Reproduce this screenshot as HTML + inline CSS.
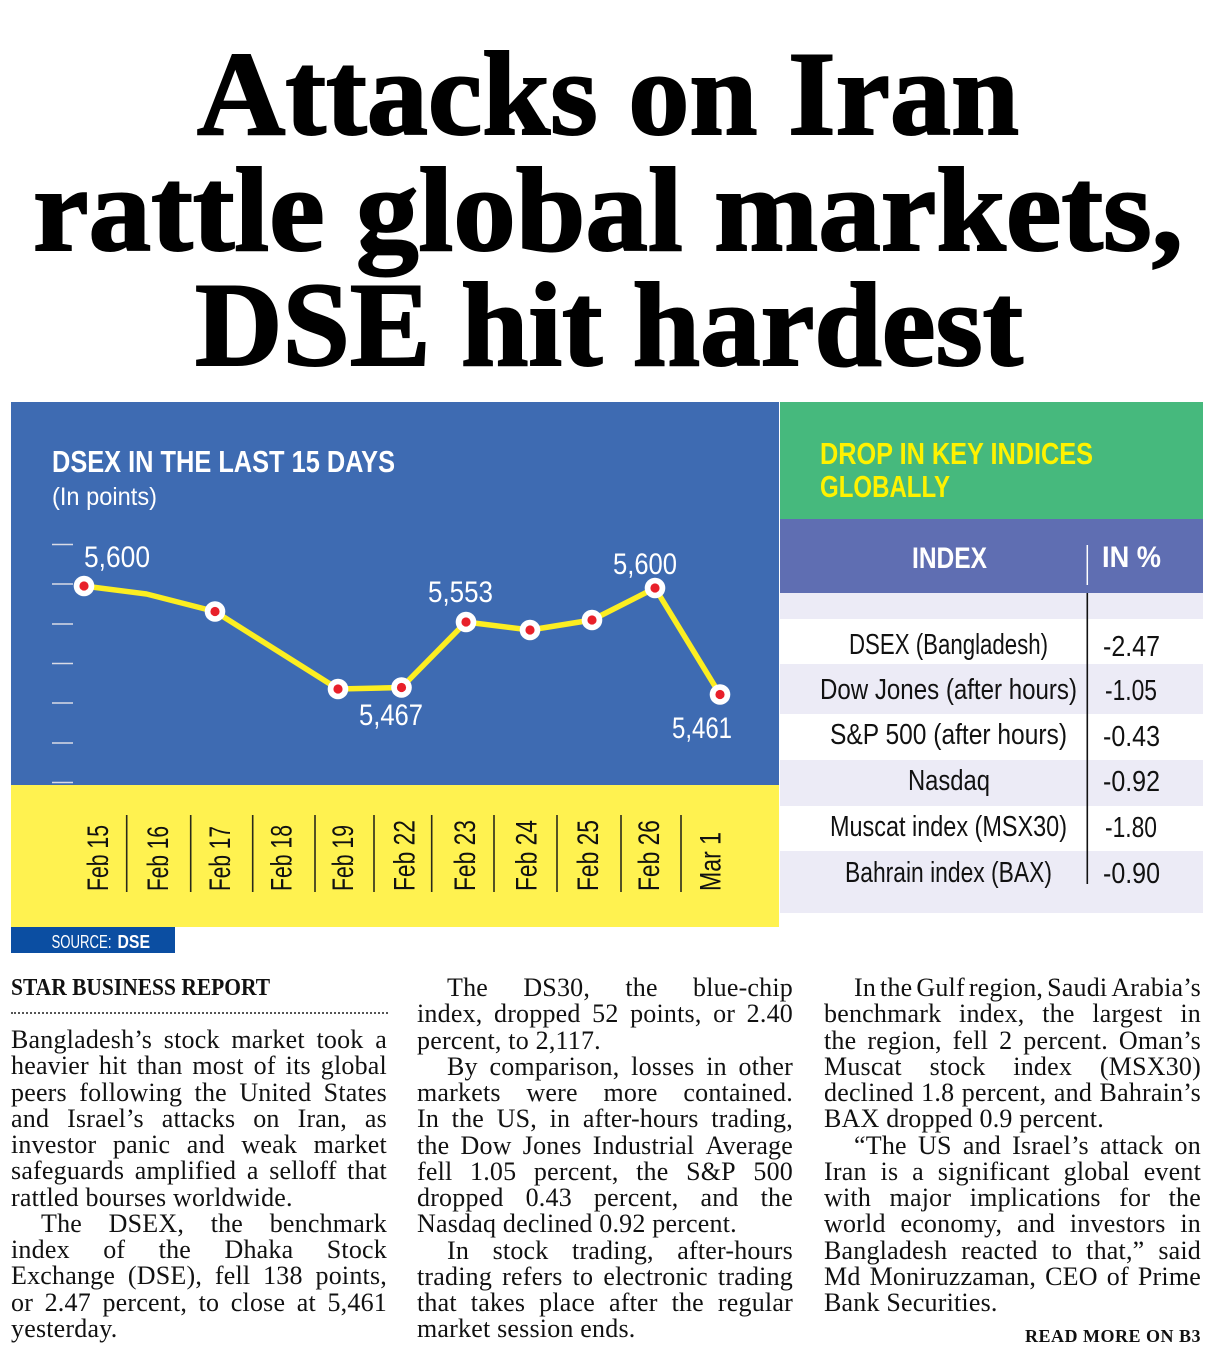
<!DOCTYPE html>
<html>
<head>
<meta charset="utf-8">
<style>
html,body{margin:0;padding:0;background:#fff;}
body{width:1213px;height:1360px;position:relative;overflow:hidden;}
svg{position:absolute;left:0;top:0;}
.col{position:absolute;width:376px;font-family:"Liberation Serif",serif;font-size:26px;line-height:26.25px;letter-spacing:0.2px;color:#111;}
.col div{height:26.25px;white-space:nowrap;}
.col .j{display:flex;justify-content:space-between;}
.col .in{padding-left:30px;}
.byline{position:absolute;left:11px;top:976px;font-family:"Liberation Serif",serif;font-weight:bold;font-size:24px;line-height:24px;color:#111;white-space:nowrap;transform:scaleX(0.895);transform-origin:0 0;}
.dots{position:absolute;left:11px;top:1012px;width:377px;border-top:2px dotted #555;}
.more{position:absolute;right:12px;top:1327px;font-family:"Liberation Serif",serif;font-weight:bold;font-size:18px;line-height:18px;letter-spacing:0.5px;color:#111;white-space:nowrap;}
</style>
</head>
<body>
<svg width="1213" height="1360" viewBox="0 0 1213 1360" xmlns="http://www.w3.org/2000/svg">
  <!-- Headline -->
  <g font-family="Liberation Serif, serif" font-weight="bold" font-size="120" fill="#000" stroke="#000" stroke-width="2">
    <text x="197" y="134" textLength="822" lengthAdjust="spacingAndGlyphs">Attacks on Iran</text>
    <text x="33" y="250" textLength="1150" lengthAdjust="spacingAndGlyphs">rattle global markets,</text>
    <text x="195" y="365" textLength="828" lengthAdjust="spacingAndGlyphs">DSE hit hardest</text>
  </g>

  <!-- Chart panel -->
  <rect x="11" y="402" width="768" height="383" fill="#3e6bb2"/>
  <rect x="11" y="785" width="768" height="142" fill="#fff250"/>
  <rect x="11" y="927" width="164" height="26" fill="#0b4ea2"/>

  <g font-family="Liberation Sans Narrow, Liberation Sans, sans-serif" fill="#fff">
    <text x="52" y="472" font-size="31" font-weight="bold" textLength="343" lengthAdjust="spacingAndGlyphs">DSEX IN THE LAST 15 DAYS</text>
    <text x="52" y="505" font-size="25" textLength="105" lengthAdjust="spacingAndGlyphs">(In points)</text>
  </g>

  <!-- ticks -->
  <g stroke="#d9dbe6" stroke-width="1.6">
    <line x1="52" y1="544.5" x2="73" y2="544.5"/>
    <line x1="52" y1="584" x2="73" y2="584"/>
    <line x1="52" y1="624" x2="73" y2="624"/>
    <line x1="52" y1="663.5" x2="73" y2="663.5"/>
    <line x1="52" y1="703" x2="73" y2="703"/>
    <line x1="52" y1="743" x2="73" y2="743"/>
    <line x1="52" y1="782.5" x2="73" y2="782.5"/>
  </g>

  <!-- line -->
  <polyline points="84,586 146.5,594 215,611.5 338,689 401.5,687.5 466,622 530,630 592,620 655,588 720,694.5" fill="none" stroke="#fcee21" stroke-width="5.5" stroke-linejoin="round"/>
  <g fill="#fff">
    <circle cx="84" cy="586" r="10.3"/>
    <circle cx="215" cy="611.5" r="10.3"/>
    <circle cx="338" cy="689" r="10.3"/>
    <circle cx="401.5" cy="687.5" r="10.3"/>
    <circle cx="466" cy="622" r="10.3"/>
    <circle cx="530" cy="630" r="10.3"/>
    <circle cx="592" cy="620" r="10.3"/>
    <circle cx="655" cy="588" r="10.3"/>
    <circle cx="720" cy="694.5" r="10.3"/>
  </g>
  <g fill="#e8202a">
    <circle cx="84" cy="586" r="4.6"/>
    <circle cx="215" cy="611.5" r="4.6"/>
    <circle cx="338" cy="689" r="4.6"/>
    <circle cx="401.5" cy="687.5" r="4.6"/>
    <circle cx="466" cy="622" r="4.6"/>
    <circle cx="530" cy="630" r="4.6"/>
    <circle cx="592" cy="620" r="4.6"/>
    <circle cx="655" cy="588" r="4.6"/>
    <circle cx="720" cy="694.5" r="4.6"/>
  </g>

  <!-- value labels -->
  <g font-family="Liberation Sans Narrow, Liberation Sans, sans-serif" font-size="30" fill="#fff">
    <text x="84" y="567" textLength="66" lengthAdjust="spacingAndGlyphs">5,600</text>
    <text x="359" y="725" textLength="64" lengthAdjust="spacingAndGlyphs">5,467</text>
    <text x="428" y="602" textLength="65" lengthAdjust="spacingAndGlyphs">5,553</text>
    <text x="613" y="574" textLength="64" lengthAdjust="spacingAndGlyphs">5,600</text>
    <text x="672" y="738" textLength="60" lengthAdjust="spacingAndGlyphs">5,461</text>
  </g>

  <!-- date labels -->
  <g font-family="Liberation Sans Narrow, Liberation Sans, sans-serif" font-size="30" fill="#111">
    <text transform="translate(108,891) rotate(-90)" textLength="66" lengthAdjust="spacingAndGlyphs">Feb 15</text>
    <text transform="translate(168,891) rotate(-90)" textLength="65" lengthAdjust="spacingAndGlyphs">Feb 16</text>
    <text transform="translate(230,891) rotate(-90)" textLength="65" lengthAdjust="spacingAndGlyphs">Feb 17</text>
    <text transform="translate(291.5,891) rotate(-90)" textLength="66" lengthAdjust="spacingAndGlyphs">Feb 18</text>
    <text transform="translate(353,891) rotate(-90)" textLength="66" lengthAdjust="spacingAndGlyphs">Feb 19</text>
    <text transform="translate(414.5,891) rotate(-90)" textLength="71" lengthAdjust="spacingAndGlyphs">Feb 22</text>
    <text transform="translate(475,891) rotate(-90)" textLength="71" lengthAdjust="spacingAndGlyphs">Feb 23</text>
    <text transform="translate(536.5,891) rotate(-90)" textLength="71" lengthAdjust="spacingAndGlyphs">Feb 24</text>
    <text transform="translate(598,891) rotate(-90)" textLength="71" lengthAdjust="spacingAndGlyphs">Feb 25</text>
    <text transform="translate(659,891) rotate(-90)" textLength="71" lengthAdjust="spacingAndGlyphs">Feb 26</text>
    <text transform="translate(720.5,891) rotate(-90)" textLength="59" lengthAdjust="spacingAndGlyphs">Mar 1</text>
  </g>
  <g stroke="#2a2a1a" stroke-width="1.6">
    <line x1="126.7" y1="815" x2="126.7" y2="892"/>
    <line x1="190.7" y1="815" x2="190.7" y2="892"/>
    <line x1="252.7" y1="815" x2="252.7" y2="892"/>
    <line x1="315" y1="815" x2="315" y2="892"/>
    <line x1="374" y1="815" x2="374" y2="892"/>
    <line x1="431.7" y1="815" x2="431.7" y2="892"/>
    <line x1="494" y1="815" x2="494" y2="892"/>
    <line x1="557" y1="815" x2="557" y2="892"/>
    <line x1="621" y1="815" x2="621" y2="892"/>
    <line x1="681" y1="815" x2="681" y2="892"/>
  </g>

  <!-- source -->
  <g font-family="Liberation Sans Narrow, Liberation Sans, sans-serif" font-size="18" fill="#fff">
    <text x="51.5" y="948" textLength="60" lengthAdjust="spacingAndGlyphs">SOURCE:</text>
    <text x="117.5" y="948" font-weight="bold" textLength="32.5" lengthAdjust="spacingAndGlyphs">DSE</text>
  </g>

  <!-- Table -->
  <rect x="780" y="402" width="423" height="117" fill="#46b97d"/>
  <rect x="780" y="519" width="423" height="74" fill="#5f6eb2"/>
  <rect x="780" y="593" width="423" height="26" fill="#ecebf6"/>
  <rect x="780" y="664" width="423" height="50" fill="#ecebf6"/>
  <rect x="780" y="760" width="423" height="46" fill="#ecebf6"/>
  <rect x="780" y="851" width="423" height="62" fill="#ecebf6"/>

  <g font-family="Liberation Sans Narrow, Liberation Sans, sans-serif" font-weight="bold" font-size="31" fill="#fff200">
    <text x="820" y="464" textLength="273" lengthAdjust="spacingAndGlyphs">DROP IN KEY INDICES</text>
    <text x="820" y="497" textLength="130" lengthAdjust="spacingAndGlyphs">GLOBALLY</text>
  </g>
  <g font-family="Liberation Sans Narrow, Liberation Sans, sans-serif" font-weight="bold" font-size="30" fill="#fff">
    <text x="912" y="568" textLength="75" lengthAdjust="spacingAndGlyphs">INDEX</text>
    <text x="1102" y="567" textLength="59" lengthAdjust="spacingAndGlyphs">IN %</text>
  </g>
  <line x1="1087.3" y1="545" x2="1087.3" y2="585" stroke="#fff" stroke-width="1.5"/>
  <line x1="1087.3" y1="593" x2="1087.3" y2="884" stroke="#111" stroke-width="1.6"/>

  <g font-family="Liberation Sans Narrow, Liberation Sans, sans-serif" font-size="29" fill="#111">
    <text x="849" y="654" textLength="199" lengthAdjust="spacingAndGlyphs">DSEX (Bangladesh)</text>
    <text x="820" y="699" textLength="257" lengthAdjust="spacingAndGlyphs">Dow Jones (after hours)</text>
    <text x="830" y="744" textLength="237" lengthAdjust="spacingAndGlyphs">S&amp;P 500 (after hours)</text>
    <text x="908" y="790" textLength="82" lengthAdjust="spacingAndGlyphs">Nasdaq</text>
    <text x="830" y="836" textLength="237" lengthAdjust="spacingAndGlyphs">Muscat index (MSX30)</text>
    <text x="845" y="882" textLength="207" lengthAdjust="spacingAndGlyphs">Bahrain index (BAX)</text>

    <text x="1103" y="656" textLength="57" lengthAdjust="spacingAndGlyphs">-2.47</text>
    <text x="1105" y="700" textLength="52" lengthAdjust="spacingAndGlyphs">-1.05</text>
    <text x="1103" y="746" textLength="57" lengthAdjust="spacingAndGlyphs">-0.43</text>
    <text x="1103" y="791" textLength="57" lengthAdjust="spacingAndGlyphs">-0.92</text>
    <text x="1105" y="837" textLength="52" lengthAdjust="spacingAndGlyphs">-1.80</text>
    <text x="1103" y="883" textLength="57" lengthAdjust="spacingAndGlyphs">-0.90</text>
  </g>
</svg>

<div class="byline">STAR BUSINESS REPORT</div>
<div class="dots"></div>

<div class="col" style="left:11px;top:1027px;">
  <div class="j"><span>Bangladesh’s</span><span>stock</span><span>market</span><span>took</span><span>a</span></div>
  <div class="j"><span>heavier</span><span>hit</span><span>than</span><span>most</span><span>of</span><span>its</span><span>global</span></div>
  <div class="j"><span>peers</span><span>following</span><span>the</span><span>United</span><span>States</span></div>
  <div class="j"><span>and</span><span>Israel’s</span><span>attacks</span><span>on</span><span>Iran,</span><span>as</span></div>
  <div class="j"><span>investor</span><span>panic</span><span>and</span><span>weak</span><span>market</span></div>
  <div class="j"><span>safeguards</span><span>amplified</span><span>a</span><span>selloff</span><span>that</span></div>
  <div>rattled bourses worldwide.</div>
  <div class="j in"><span>The</span><span>DSEX,</span><span>the</span><span>benchmark</span></div>
  <div class="j"><span>index</span><span>of</span><span>the</span><span>Dhaka</span><span>Stock</span></div>
  <div class="j"><span>Exchange</span><span>(DSE),</span><span>fell</span><span>138</span><span>points,</span></div>
  <div class="j"><span>or</span><span>2.47</span><span>percent,</span><span>to</span><span>close</span><span>at</span><span>5,461</span></div>
  <div>yesterday.</div>
</div>

<div class="col" style="left:417px;top:975px;">
  <div class="j in"><span>The</span><span>DS30,</span><span>the</span><span>blue-chip</span></div>
  <div class="j"><span>index,</span><span>dropped</span><span>52</span><span>points,</span><span>or</span><span>2.40</span></div>
  <div>percent, to 2,117.</div>
  <div class="j in"><span>By</span><span>comparison,</span><span>losses</span><span>in</span><span>other</span></div>
  <div class="j"><span>markets</span><span>were</span><span>more</span><span>contained.</span></div>
  <div class="j"><span>In</span><span>the</span><span>US,</span><span>in</span><span>after-hours</span><span>trading,</span></div>
  <div class="j"><span>the</span><span>Dow</span><span>Jones</span><span>Industrial</span><span>Average</span></div>
  <div class="j"><span>fell</span><span>1.05</span><span>percent,</span><span>the</span><span>S&amp;P</span><span>500</span></div>
  <div class="j"><span>dropped</span><span>0.43</span><span>percent,</span><span>and</span><span>the</span></div>
  <div>Nasdaq declined 0.92 percent.</div>
  <div class="j in"><span>In</span><span>stock</span><span>trading,</span><span>after-hours</span></div>
  <div class="j"><span>trading</span><span>refers</span><span>to</span><span>electronic</span><span>trading</span></div>
  <div class="j"><span>that</span><span>takes</span><span>place</span><span>after</span><span>the</span><span>regular</span></div>
  <div>market session ends.</div>
</div>

<div class="col" style="left:824px;top:975px;width:377px;">
  <div class="j in"><span>In</span><span>the</span><span>Gulf</span><span>region,</span><span>Saudi</span><span>Arabia’s</span></div>
  <div class="j"><span>benchmark</span><span>index,</span><span>the</span><span>largest</span><span>in</span></div>
  <div class="j"><span>the</span><span>region,</span><span>fell</span><span>2</span><span>percent.</span><span>Oman’s</span></div>
  <div class="j"><span>Muscat</span><span>stock</span><span>index</span><span>(MSX30)</span></div>
  <div class="j"><span>declined</span><span>1.8</span><span>percent,</span><span>and</span><span>Bahrain’s</span></div>
  <div>BAX dropped 0.9 percent.</div>
  <div class="j in"><span>“The</span><span>US</span><span>and</span><span>Israel’s</span><span>attack</span><span>on</span></div>
  <div class="j"><span>Iran</span><span>is</span><span>a</span><span>significant</span><span>global</span><span>event</span></div>
  <div class="j"><span>with</span><span>major</span><span>implications</span><span>for</span><span>the</span></div>
  <div class="j"><span>world</span><span>economy,</span><span>and</span><span>investors</span><span>in</span></div>
  <div class="j"><span>Bangladesh</span><span>reacted</span><span>to</span><span>that,”</span><span>said</span></div>
  <div class="j"><span>Md</span><span>Moniruzzaman,</span><span>CEO</span><span>of</span><span>Prime</span></div>
  <div>Bank Securities.</div>
</div>

<div class="more">READ MORE ON B3</div>
</body>
</html>
